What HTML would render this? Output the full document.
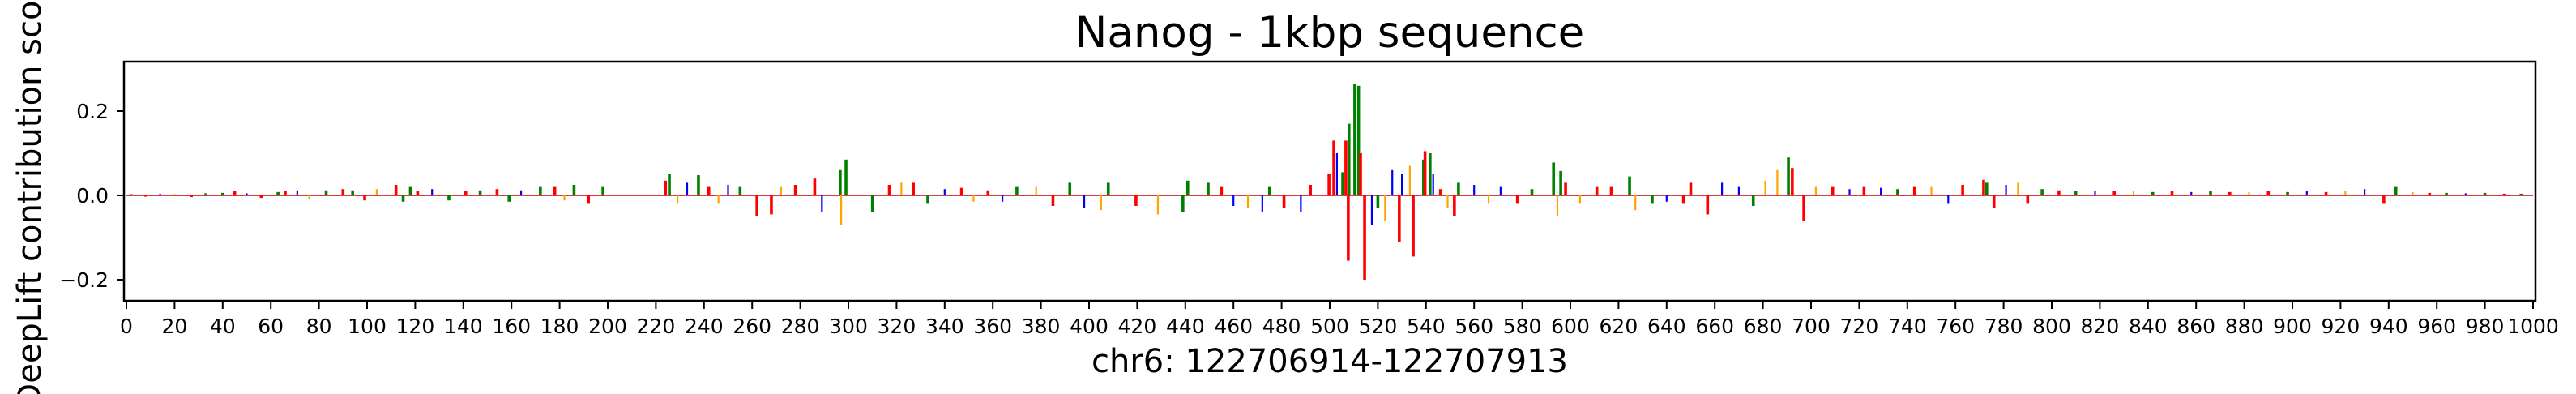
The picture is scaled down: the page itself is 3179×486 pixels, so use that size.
<!DOCTYPE html>
<html><head><meta charset="utf-8"><style>
html,body{margin:0;padding:0;background:#fff;width:3179px;height:486px;overflow:hidden}
svg{display:block;font-family:"DejaVu Sans","Liberation Sans",sans-serif}
</style></head><body>
<svg id="chart" width="3179" height="486">
<g id="marks"></g>
<rect x="153" y="76" width="2976" height="295" fill="none" stroke="#000" stroke-width="2.5"/>
<g id="xticks"></g>
<g id="yticks"></g>
<text x="1641" y="58" font-size="53" text-anchor="middle">Nanog - 1kbp sequence</text>
<text x="1641" y="459" font-size="40" text-anchor="middle">chr6: 122706914-122707913</text>
<text transform="translate(50,232) rotate(-90)" font-size="40" text-anchor="middle">DeepLift contribution score</text>
</svg>
<script>
const positions = [
2,8,14,20,27,33,40,45,50,56,63,66,71,76,83,90,94,99,104,112,115,118,121,127,134,141,147,154,159,164,172,178,182,186,192,198,
224,225.6,229,237.7,233,242,246,262,250,255,268,272,278,
286,289,296.6,297,299,310,317,322,327,333,340,347,352,358,364,370,405,408,419.5,428.6,439,441,449.5,455,460,466,472,481,488,475,492,378,385,392,398,
499.7,501.7,503,505.4,506.7,507.7,508,510.4,512,512.8,514.5,517.5,520,523,526,528.9,530,533.3,534.7,539,539.6,541.7,543,546,549,551.8,553.5,560,566,571,578,584,
593,594.6,596,598,604,611,617,624.6,627,634,640,647,650,657,663,670,676,681,686,690.6,692.2,697,702,709,716,722,729,736,743,750,757,763,
771.7,773,776,781,786,790,796,803,810,818,826,834,842,850,858,866,874,882,890,898,906,914,922,930,938,943,950,957,964,972,980,988,995];
const bases = [
"A","T","C","G","T","A","A","T","C","T","A","T","C","G","A","T","A","T","G","T","A","A","T","C","A","T","A","T","A","C","A","T","G","A","T","A",
"T","A","G","A","C","T","G","T","C","A","T","G","T",
"T","C","A","G","A","A","T","G","T","A","C","T","G","T","C","A","G","A","T","G","A","A","A","T","C","G","C","T","C","A","T","G","T","A","C",
"T","T","C","A","T","T","A","A","A","T","T","C","A","G","C","T","C","G","T","A","T","A","C","T","G","T","A","C","G","C","T","A",
"A","G","A","T","G","T","T","A","G","A","C","T","T","T","C","C","A","G","G","A","T","T","G","T","C","T","C","A","T","G","C","T",
"T","A","T","C","G","T","A","T","A","C","T","G","A","T","C","A","T","G","T","A","C","T","G","C","T","A","G","T","A","C","A","T","A"];
const values = [
0.003,-0.003,0.004,0.003,-0.004,0.005,0.006,0.01,0.005,-0.006,0.008,0.01,0.012,-0.01,0.012,0.015,0.012,-0.012,0.015,0.025,-0.015,0.02,0.01,0.015,-0.012,0.01,0.012,0.015,-0.015,0.012,0.02,0.02,-0.012,0.025,-0.02,0.02,
0.035,0.05,-0.02,0.048,0.03,0.02,-0.02,-0.05,0.025,0.02,-0.045,0.02,0.025,
0.04,-0.04,0.06,-0.07,0.085,-0.04,0.025,0.03,0.03,-0.02,0.015,0.018,-0.015,0.012,-0.015,0.02,-0.035,0.03,-0.025,-0.045,-0.04,0.035,0.03,0.02,-0.025,-0.03,-0.04,-0.03,-0.04,0.02,0.025,0.02,-0.025,0.03,-0.03,
0.05,0.13,0.1,0.055,0.13,-0.155,0.17,0.265,0.26,0.1,-0.2,-0.07,-0.03,-0.06,0.06,-0.11,0.05,0.07,-0.145,0.085,0.105,0.1,0.05,0.015,-0.03,-0.05,0.03,0.025,-0.02,0.02,-0.02,0.015,
0.078,-0.05,0.058,0.03,-0.02,0.02,0.02,0.045,-0.035,-0.02,-0.015,-0.02,0.03,-0.045,0.03,0.02,-0.025,0.035,0.06,0.09,0.065,-0.06,0.02,0.02,0.015,0.02,0.018,0.015,0.02,0.02,-0.02,0.025,
0.037,0.03,-0.03,0.025,0.03,-0.02,0.015,0.012,0.01,0.01,0.01,0.01,0.008,0.01,0.008,0.01,0.008,0.008,0.01,0.008,0.01,0.008,0.01,0.015,-0.02,0.02,0.008,0.006,0.006,0.005,0.006,0.004,0.004];
const xTicks = [];
for (let t = 0; t <= 1000; t += 20) xTicks.push(t);
const yTicks = [0.2, 0.0, -0.2];
const yTickLabels = ["0.2", "0.0", "\u22120.2"];

const X0 = 156, XS = 2.97;
const Y0 = 241, YS = 520;
function xScale(p){ return X0 + p * XS; }
function yScale(v){ return Y0 - v * YS; }
const colors = {A:"#008000", C:"#0000ff", G:"#ffa500", T:"#ff0000"};
const NS = "http://www.w3.org/2000/svg";
const marks = document.getElementById('marks');

const base = document.createElementNS(NS,'line');


base.setAttribute('x1', xScale(0)); base.setAttribute('x2', xScale(1000));
base.setAttribute('y1', yScale(0)); base.setAttribute('y2', yScale(0));
base.setAttribute('stroke', '#d04040'); base.setAttribute('stroke-width', '2');
marks.appendChild(base);

for (let i = 0; i < positions.length; i++) {
  const b = bases[i] || "A";
  const v = values[i] || 0;
  const r = document.createElementNS(NS,'rect');
  
  
  const w = (b === 'C' || b === 'G') ? 2.2 : 3.6;
  const y1 = yScale(Math.max(v,0)), y2 = yScale(Math.min(v,0));
  r.setAttribute('x', xScale(positions[i]) - w/2);
  r.setAttribute('y', y1);
  r.setAttribute('width', w);
  r.setAttribute('height', Math.max(1, y2 - y1));
  r.setAttribute('fill', colors[b]);
  marks.appendChild(r);
}

const xg = document.getElementById('xticks');
xTicks.forEach(t => {
  const x = xScale(t);
  const l = document.createElementNS(NS,'line');
  
  
  l.setAttribute('x1', x); l.setAttribute('x2', x);
  l.setAttribute('y1', 372); l.setAttribute('y2', 381);
  l.setAttribute('stroke', '#000'); l.setAttribute('stroke-width', '2');
  xg.appendChild(l);
  const tx = document.createElementNS(NS,'text');
  
  
  tx.setAttribute('x', x); tx.setAttribute('y', 411);
  tx.setAttribute('font-size', '25'); tx.setAttribute('text-anchor', 'middle');
  tx.textContent = t;
  xg.appendChild(tx);
});
const yg = document.getElementById('yticks');
yTicks.forEach((t, i) => {
  const y = yScale(t);
  const l = document.createElementNS(NS,'line');
  
  
  l.setAttribute('x1', 144); l.setAttribute('x2', 153);
  l.setAttribute('y1', y); l.setAttribute('y2', y);
  l.setAttribute('stroke', '#000'); l.setAttribute('stroke-width', '2');
  yg.appendChild(l);
  const tx = document.createElementNS(NS,'text');
  
  
  tx.setAttribute('x', 134); tx.setAttribute('y', y + 9);
  tx.setAttribute('font-size', '25'); tx.setAttribute('text-anchor', 'end');
  tx.textContent = yTickLabels[i];
  yg.appendChild(tx);
});
</script>
</body></html>
